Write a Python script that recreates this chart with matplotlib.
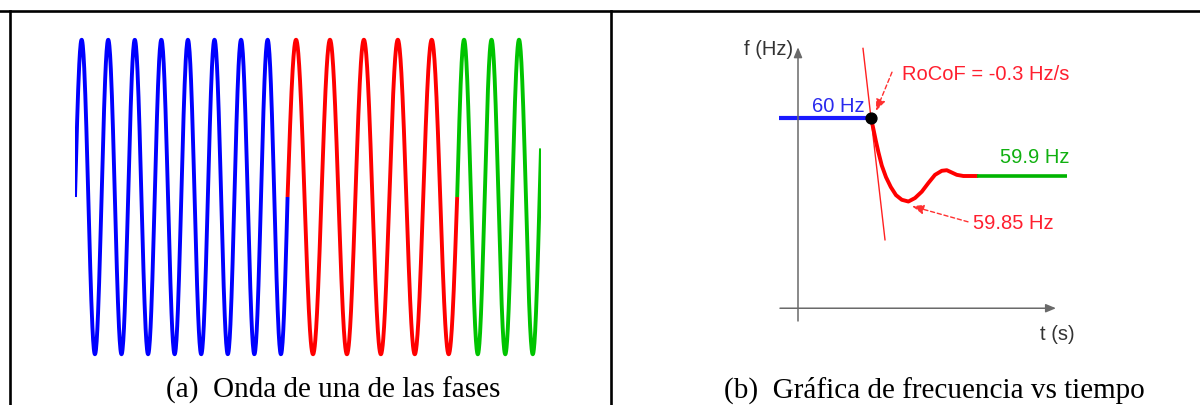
"""
Two-panel figure: phase waveform (a) and frequency vs time after a disturbance (b)
"""
import numpy as np
import matplotlib
matplotlib.use("Agg")
import matplotlib.pyplot as plt
from matplotlib.lines import Line2D

# ---- data: panel (a) waveform segments ----
seg_colors = ["#0000ff", "#ff0000", "#00c400"]
seg_freqs = [60.0, 47.0, 58.0]      # Hz of each segment
seg_cycles = [8, 5, 3.05]           # cycles drawn in each segment

# ---- data: panel (b) frequency response ----
pre_t = [-0.95, 3.65]
pre_f = [60.0, 60.0]
drop_t = [3.65, 3.77, 3.89, 4.02, 4.19, 4.40, 4.64, 4.90, 5.19, 5.52,
          5.85, 6.19, 6.52, 6.85, 7.19, 7.44, 7.69, 7.94, 8.27, 8.95]
drop_f = [60.000, 59.981, 59.961, 59.941, 59.918, 59.898, 59.881, 59.867,
          59.859, 59.856, 59.862, 59.873, 59.888, 59.902, 59.909, 59.910,
          59.906, 59.902, 59.900, 59.900]
post_t = [8.95, 13.45]
post_f = [59.9, 59.9]
event_t, event_f = 3.65, 60.0
rocof = -0.3                        # Hz/s
tangent_t = [3.25, 4.35]

W, H = 1200, 406
fig = plt.figure(figsize=(W / 100, H / 100), dpi=100)


def box(x0, y0, x1, y1):
    # pixel box (top-left origin) -> figure fraction rect
    return [x0 / W, 1 - y1 / H, (x1 - x0) / W, (y1 - y0) / H]


# table borders
for xs, ys in [([0, 1], [1 - 12 / H] * 2),
               ([9.5 / W] * 2, [0, 1 - 12 / H]),
               ([610.5 / W] * 2, [0, 1 - 12 / H])]:
    fig.add_artist(Line2D(xs, ys, color="black", lw=1.9, transform=fig.transFigure))

# ---- panel (a) ----
ax1 = fig.add_axes(box(75, 36, 541, 360))
t0 = 0.0
for color, fq, cyc in zip(seg_colors, seg_freqs, seg_cycles):
    dur = cyc / fq
    t = np.linspace(t0, t0 + dur, 600)
    ax1.plot(t, np.sin(2 * np.pi * fq * (t - t0)), color=color, lw=2.8,
             solid_capstyle="butt")
    t0 += dur
ax1.set_xlim(0, t0)
ax1.set_ylim(-1.03, 1.03)
ax1.axis("off")

# ---- panel (b) ----
ax2 = fig.add_axes(box(760, 30, 1100, 350))
ax2.set_xlim(-1.9, 15.1)
ax2.set_ylim(59.60172, 60.15345)
ax2.axis("off")

axis_col = "#6a6a6a"
ax2.annotate("", xy=(0, 60.122), xytext=(0, 59.65),
             arrowprops=dict(arrowstyle="-|>,head_length=0.6,head_width=0.25",
                             color=axis_col, lw=1.1, shrinkA=0, shrinkB=0))
ax2.annotate("", xy=(12.9, 59.672), xytext=(-0.9, 59.672),
             arrowprops=dict(arrowstyle="-|>,head_length=0.6,head_width=0.25",
                             color=axis_col, lw=1.1, shrinkA=0, shrinkB=0))

sans = "Liberation Sans"
ax2.text(-0.25, 60.119, "f (Hz)", ha="right", va="center", fontsize=14.5,
         family=sans, color="#333333")
ax2.text(13.85, 59.628, "t (s)", ha="right", va="center", fontsize=14.5,
         family=sans, color="#333333")

# tangent line (RoCoF)
tan_f = [event_f + rocof * (tt - event_t) for tt in tangent_t]
ax2.plot(tangent_t, tan_f, color="#ff2020", lw=1.0)

ax2.plot(pre_t, pre_f, color="#1a1aff", lw=3.0, solid_capstyle="butt")
ax2.plot(drop_t, drop_f, color="#ff0000", lw=2.8, solid_capstyle="round",
         solid_joinstyle="round")
ax2.plot(post_t, post_f, color="#00b400", lw=2.6, solid_capstyle="butt")
ax2.plot([event_t], [event_f], "o", color="black", ms=7.8, zorder=5)

red_txt = "#ff1f2f"
ax2.text(3.35, 60.022, "60 Hz", ha="right", va="center", fontsize=14.5,
         family=sans, color="#2a2aee")
ax2.text(5.2, 60.076, "RoCoF = -0.3 Hz/s", ha="left", va="center", fontsize=14.5,
         family=sans, color=red_txt)
ax2.text(13.6, 59.934, "59.9 Hz", ha="right", va="center", fontsize=14.5,
         family=sans, color="#10b010")
ax2.text(8.75, 59.819, "59.85 Hz", ha="left", va="center", fontsize=14.5,
         family=sans, color=red_txt)

arrow_kw = dict(arrowstyle="-|>,head_length=0.7,head_width=0.28", color="#ff3030",
                lw=1.0, linestyle=(0, (3, 2)), shrinkA=0, shrinkB=0)
ax2.annotate("", xy=(3.9, 60.012), xytext=(4.7, 60.079), arrowprops=arrow_kw)
ax2.annotate("", xy=(5.7, 59.848), xytext=(8.5, 59.821), arrowprops=arrow_kw)

# captions
serif = "Liberation Serif"
fig.text(333 / W, 1 - 398 / H, "(a)  Onda de una de las fases", ha="center",
         va="baseline", fontsize=21, family=serif)
fig.text(934 / W, 1 - 398 / H, "(b)  Gráfica de frecuencia vs tiempo", ha="center",
         va="baseline", fontsize=21, family=serif)

fig.savefig("out.png", dpi=100)
